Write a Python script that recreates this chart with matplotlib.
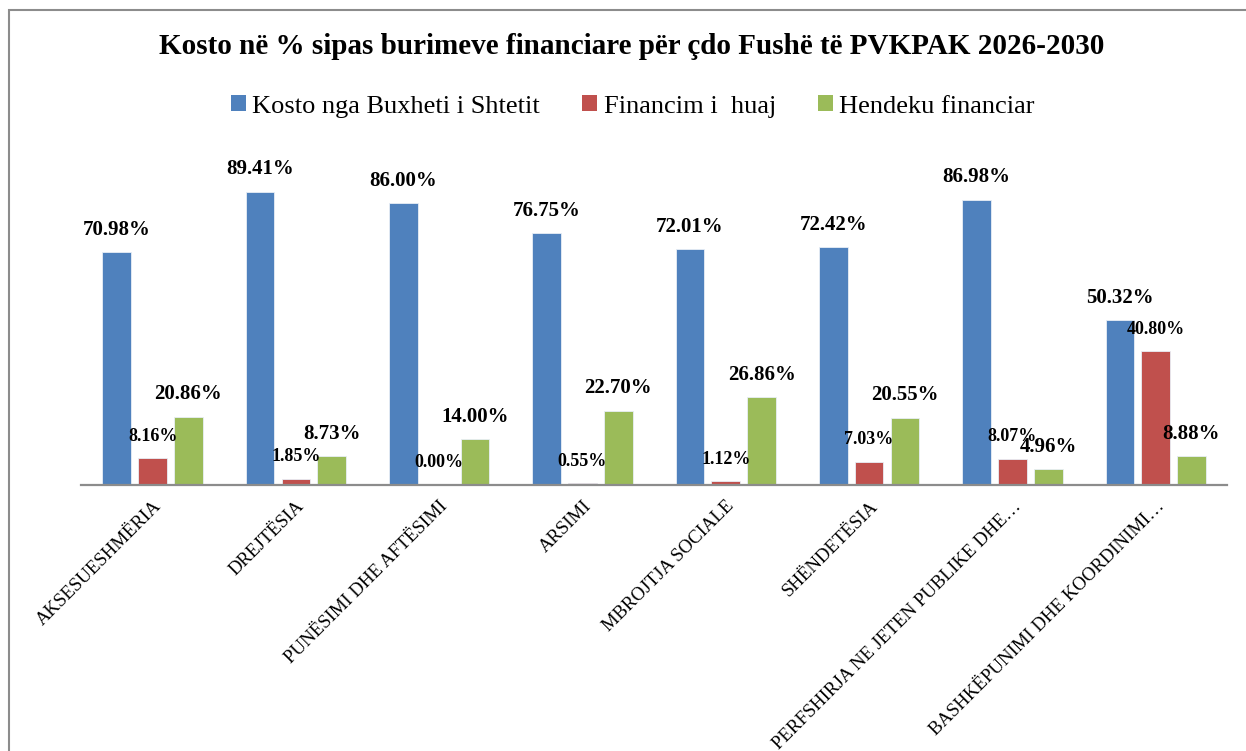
import matplotlib
matplotlib.use('Agg')
import matplotlib.pyplot as plt
from matplotlib.patches import Rectangle, Patch

plt.rcParams['font.family'] = ['Liberation Serif', 'DejaVu Serif']

# Data
categories = ["AKSESUESHMËRIA", "DREJTËSIA", "PUNËSIMI DHE AFTËSIMI", "ARSIMI",
              "MBROJTJA SOCIALE", "SHËNDETËSIA", "PERFSHIRJA NE JETEN PUBLIKE DHE…",
              "BASHKËPUNIMI DHE KOORDINIMI…"]
buxheti = [70.98, 89.41, 86.00, 76.75, 72.01, 72.42, 86.98, 50.32]
financim_huaj = [8.16, 1.85, 0.00, 0.55, 1.12, 7.03, 8.07, 40.80]
hendeku = [20.86, 8.73, 14.00, 22.70, 26.86, 20.55, 4.96, 8.88]

series_names = ["Kosto nga Buxheti i Shtetit", "Financim i  huaj", "Hendeku financiar"]
colors = ['#4F81BD', '#C0504D', '#9BBB59']

fig = plt.figure(figsize=(12.46, 7.51), dpi=100)
ax = fig.add_axes([0.065, 0.354, 0.92, 0.437])

x = list(range(len(categories)))
width = 0.2
offsets = [-0.25, 0.0, 0.25]
label_sizes = [15, 13, 15]

for values, off, col, fs in zip([buxheti, financim_huaj, hendeku], offsets, colors, label_sizes):
    xs = [i + off for i in x]
    ax.bar(xs, values, width=width, color=col, edgecolor='#e8eef6', linewidth=0.6)
    for xi, v in zip(xs, values):
        ax.annotate(f"{v:.2f}%", (xi, v), xytext=(0, 16), textcoords='offset points',
                    ha='center', va='center', fontsize=fs, fontweight='bold')

ax.set_xlim(-0.5, len(categories) - 0.5)
ax.set_ylim(0, 100)
ax.set_yticks([])
ax.set_xticks(x)
ax.set_xticklabels(categories, rotation=45, ha='right', va='top',
                   rotation_mode='anchor', fontsize=13.5)
ax.tick_params(axis='x', length=0, pad=9)
for s in ['top', 'right', 'left']:
    ax.spines[s].set_visible(False)
ax.spines['bottom'].set_color('#8c8c8c')
ax.spines['bottom'].set_linewidth(1.6)

fig.text(0.507, 0.9375, "Kosto në % sipas burimeve financiare për çdo Fushë të PVKPAK 2026-2030",
         ha='center', va='center', fontsize=21, fontweight='bold')

handles = [Patch(facecolor=c, edgecolor='none') for c in colors]
fig.legend(handles, series_names, loc='center', bbox_to_anchor=(0.508, 0.858), ncol=3,
           frameon=False, fontsize=19, handlelength=0.55, handleheight=0.55,
           handletextpad=0.25, columnspacing=1.6)

# chart border (cut at right and bottom)
fig.add_artist(Rectangle((8.5 / 1246, -0.1), 1.2, 1.1 - 9.5 / 751, transform=fig.transFigure,
                         fill=False, edgecolor='#8c8c8c', linewidth=1.5))

fig.savefig('out.png', dpi=100)
